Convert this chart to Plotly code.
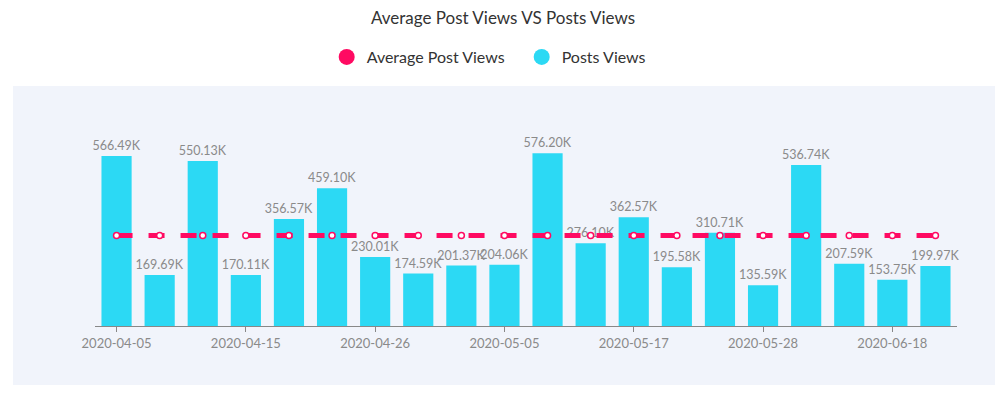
import plotly.graph_objects as go

dates = ["2020-04-05", "2020-04-08", "2020-04-12", "2020-04-15", "2020-04-19",
         "2020-04-22", "2020-04-26", "2020-04-29", "2020-05-02", "2020-05-05",
         "2020-05-09", "2020-05-13", "2020-05-17", "2020-05-20", "2020-05-24",
         "2020-05-28", "2020-06-04", "2020-06-11", "2020-06-18", "2020-06-25"]
post_views = [566490, 169690, 550130, 170110, 356570, 459100, 230010, 174590, 201370, 204060,
              576200, 276100, 362570, 195580, 310710, 135590, 536740, 207590, 153750, 199970]
avg_views = [301850, 301850, 301850, 301850, 301850, 301850, 301850, 301850, 301850, 301850,
             301850, 301850, 301850, 301850, 301850, 301850, 301850, 301850, 301850, 301850]
tick_dates = ["2020-04-05", "2020-04-15", "2020-04-26", "2020-05-05", "2020-05-17", "2020-05-28", "2020-06-18"]

PINK = "#FF0A62"
CYAN = "#2CD9F4"
FONT = "Lato"

labels = [f"{v/1000:.2f}K" for v in post_views]

fig = go.Figure()
fig.add_trace(go.Bar(
    x=dates, y=post_views, marker=dict(color=CYAN, line=dict(width=0)),
    text=labels, textposition="outside", cliponaxis=False, constraintext="none",
    textfont=dict(color="#8a8a8a", size=12.5, family=FONT),
    showlegend=False, hoverinfo="x+y"))
fig.add_trace(go.Scatter(
    x=dates, y=avg_views, mode="lines+markers",
    line=dict(color=PINK, width=5, dash="16px,16px"),
    marker=dict(symbol="circle", size=6, color="white", line=dict(color=PINK, width=1.5)),
    showlegend=False, cliponaxis=False))
# legend entries (circle icons)
fig.add_trace(go.Scatter(x=[dates[0]], y=[None], mode="markers", name="Average Post Views",
                         marker=dict(color=PINK, size=17, symbol="circle")))
fig.add_trace(go.Scatter(x=[dates[0]], y=[None], mode="markers", name="Posts Views",
                         marker=dict(color=CYAN, size=17, symbol="circle")))

fig.update_layout(
    width=998, height=391,
    margin=dict(l=87, r=49, t=132, b=73),
    paper_bgcolor="white", plot_bgcolor="rgba(0,0,0,0)",
    font=dict(family=FONT, color="#333333"),
    title=dict(text="Average Post Views VS Posts Views", x=0.496, xref="container", xanchor="center",
               y=1 - 10 / 391, yanchor="middle", font=dict(size=17, color="#333333", family=FONT)),
    legend=dict(orientation="h", x=0.495, xanchor="center", y=1.446, yanchor="middle",
                font=dict(size=16, color="#333333", family=FONT), bgcolor="rgba(0,0,0,0)",
                itemclick=False, entrywidth=150, entrywidthmode="pixels"),
    bargap=0.3,
    showlegend=True,
    shapes=[dict(type="rect", xref="paper", yref="paper", x0=-0.0951, x1=1.0441, y0=-0.317, y1=1.290,
                 fillcolor="#F1F4FB", line=dict(width=0), layer="below")],
)
fig.update_xaxes(type="category", categoryorder="array", categoryarray=dates,
                 range=[-0.5, len(dates) - 0.5], autorange=False,
                 tickvals=tick_dates, ticktext=tick_dates, ticks="outside", ticklen=5,
                 tickcolor="#888888", showline=True, linecolor="#888888", linewidth=1,
                 showgrid=False, zeroline=False,
                 tickfont=dict(size=13, color="#8a8a8a", family=FONT))
fig.update_yaxes(range=[0, 620000], visible=False, showgrid=False, zeroline=False)

fig.write_html("out.html")
